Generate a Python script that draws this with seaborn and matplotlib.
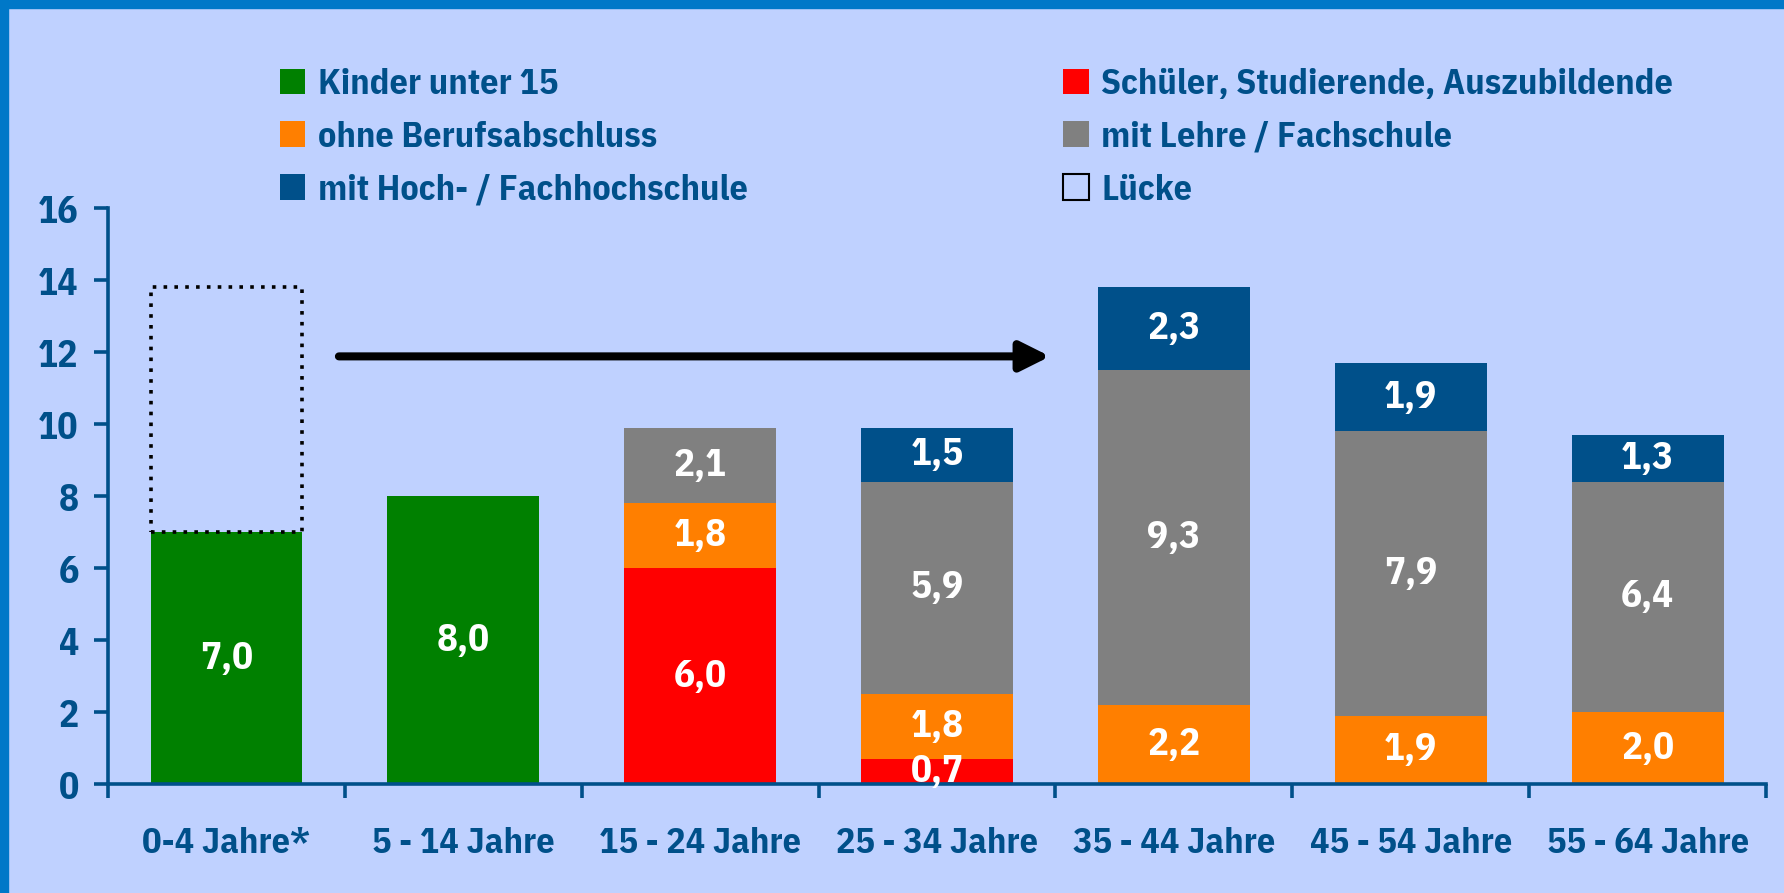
import numpy as np
import seaborn as sns
import matplotlib.pyplot as plt
from matplotlib.patches import Patch, Rectangle

# chart values
cats = ['0-4 Jahre*', '5 - 14 Jahre', '15 - 24 Jahre', '25 - 34 Jahre',
        '35 - 44 Jahre', '45 - 54 Jahre', '55 - 64 Jahre']
kinder = [7.0, 8.0, 0, 0, 0, 0, 0]
schueler = [0, 0, 6.0, 0.7, 0, 0, 0]
ohne = [0, 0, 1.8, 1.8, 2.2, 1.9, 2.0]
lehre = [0, 0, 2.1, 5.9, 9.3, 7.9, 6.4]
hoch = [0, 0, 0, 1.5, 2.3, 1.9, 1.3]
luecke = [6.8, 0, 0, 0, 0, 0, 0]

BG = '#BFD1FF'
TXT = '#00508A'
BORDER = '#0078C8'
FS = 26

sns.set_theme(style='white')
plt.rcParams['font.family'] = ['IBM Plex Sans Condensed', 'DejaVu Sans']
plt.rcParams['font.stretch'] = 'condensed'
plt.rcParams['font.weight'] = 'bold'

fig = plt.figure(figsize=(17.84, 8.93), dpi=100, facecolor=BG)
ax = fig.add_axes([0.0605, 0.122, 0.9295, 0.645])
ax.set_facecolor(BG)

segments = [
    ('Kinder unter 15', kinder, '#008000'),
    ('Schüler, Studierende, Auszubildende', schueler, '#FF0000'),
    ('ohne Berufsabschluss', ohne, '#FF7F00'),
    ('mit Lehre / Fachschule', lehre, '#808080'),
    ('mit Hoch- / Fachhochschule', hoch, '#00508A'),
]

cat_arr = np.array(cats)
bottom = np.zeros(len(cats))
handles = {}
for name, vals, col in segments:
    vals = np.array(vals, dtype=float)
    mask = vals > 0
    sns.barplot(x=cat_arr[mask], y=vals[mask], order=cats, color=col,
                saturation=1, width=0.64, errorbar=None, linewidth=0,
                bottom=bottom[mask], ax=ax)
    labels = [f'{v:.1f}'.replace('.', ',') for v in vals[mask]]
    ax.bar_label(ax.containers[-1], labels=labels, label_type='center',
                 color='white', fontsize=FS + 2, fontweight='bold')
    bottom = bottom + vals
    handles[name] = Patch(facecolor=col, edgecolor='none')

# gap box (Lücke) on top of the first bar
lv = np.array(luecke, dtype=float)
mask = lv > 0
sns.barplot(x=cat_arr[mask], y=lv[mask], order=cats, color='black',
            saturation=1, width=0.64, errorbar=None, fill=False,
            linewidth=2.6, linestyle=(0, (1.0, 2.0)),
            bottom=np.array(kinder)[mask], ax=ax)
handles['Lücke'] = Patch(facecolor='none', edgecolor='black', linewidth=1.5)

# arrow
ax.annotate('', xy=(3.477, 11.88), xytext=(0.475, 11.88),
            arrowprops=dict(arrowstyle='-|>', lw=5.8, color='black',
                            mutation_scale=44, shrinkA=0, shrinkB=0))

ax.set_ylim(0, 16)
ax.set_xlim(-0.5, 6.5)
ax.set_yticks(range(0, 17, 2))
ax.set_xticks(range(len(cats)))
ax.set_xticklabels(cats)
ax.set_xticks(np.arange(-0.5, 7, 1), minor=True)
ax.set_xlabel('')
ax.set_ylabel('')

for s in ['top', 'right']:
    ax.spines[s].set_visible(False)
for s in ['left', 'bottom']:
    ax.spines[s].set_color(TXT)
    ax.spines[s].set_linewidth(2.6)
ax.tick_params(axis='y', which='major', direction='out', length=10, width=2.6,
               color=TXT, labelcolor=TXT, labelsize=FS + 1, pad=11, left=True)
ax.tick_params(axis='x', which='major', length=0, labelcolor=TXT,
               labelsize=FS, pad=31)
ax.tick_params(axis='x', which='minor', direction='out', length=10, width=2.6,
               color=TXT, bottom=True)
for lab in ax.get_xticklabels() + ax.get_yticklabels():
    lab.set_fontweight('bold')

leg_kw = dict(frameon=False, fontsize=FS, handlelength=0.7, handleheight=0.7,
              handletextpad=0.35, labelspacing=0.55, borderpad=0,
              borderaxespad=0, loc='upper left', labelcolor=TXT)
col1 = ['Kinder unter 15', 'ohne Berufsabschluss', 'mit Hoch- / Fachhochschule']
col2 = ['Schüler, Studierende, Auszubildende', 'mit Lehre / Fachschule', 'Lücke']
leg1 = fig.legend([handles[n] for n in col1], col1,
                  bbox_to_anchor=(0.157, 0.924), **leg_kw)
leg2 = fig.legend([handles[n] for n in col2], col2,
                  bbox_to_anchor=(0.596, 0.924), **leg_kw)
for leg in (leg1, leg2):
    for t in leg.get_texts():
        t.set_fontweight('bold')

# frame on left and top
fig.add_artist(Rectangle((0, 0), 0.0045, 1, transform=fig.transFigure,
                         color=BORDER, zorder=10))
fig.add_artist(Rectangle((0, 0.991), 1, 0.009, transform=fig.transFigure,
                         color=BORDER, zorder=10))

fig.savefig('out.png', dpi=100, facecolor=BG)
